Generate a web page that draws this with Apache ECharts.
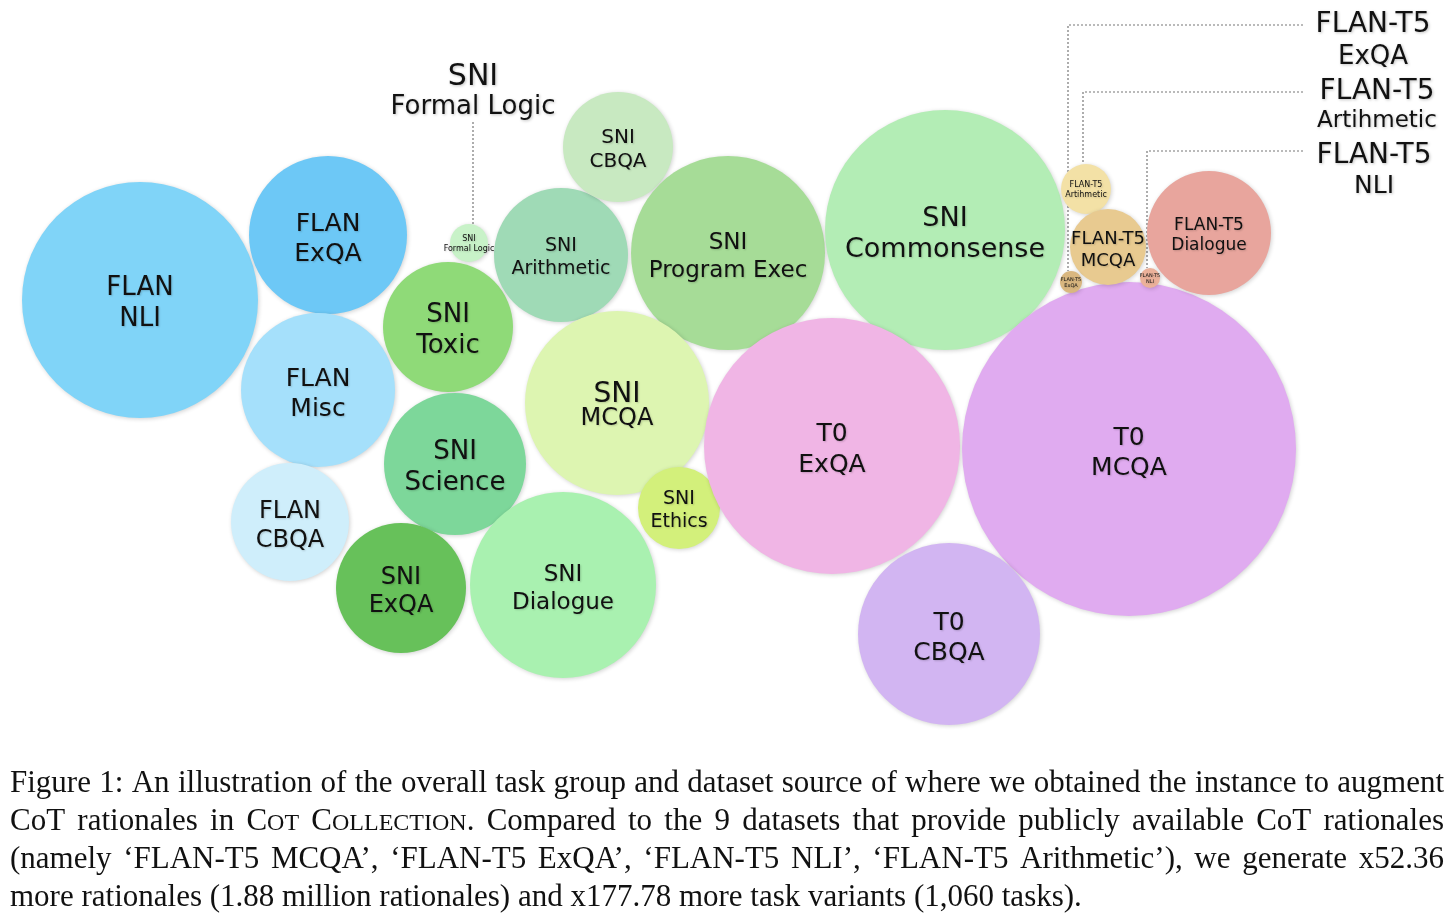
<!DOCTYPE html>
<html>
<head>
<meta charset="utf-8">
<script src="https://cdn.jsdelivr.net/npm/echarts@6/dist/echarts.min.js"></script>
<style>
html,body{margin:0;padding:0;background:#fff;}
#c{width:1456px;height:919px;}
</style>
</head>
<body>
<div id="c"></div>
<script>
// ---- data ----
const topLines    = ['FLAN','FLAN','FLAN','FLAN','SNI','SNI','SNI','SNI','SNI','SNI','SNI','SNI','SNI','SNI','SNI','T0','T0','T0','FLAN-T5','FLAN-T5','FLAN-T5','FLAN-T5','FLAN-T5'];
const bottomLines = ['NLI','ExQA','Misc','CBQA','Formal Logic','Toxic','Science','ExQA','Arithmetic','CBQA','Program Exec','MCQA','Dialogue','Ethics','Commonsense','ExQA','MCQA','CBQA','Artihmetic','MCQA','ExQA','NLI','Dialogue'];
const xValues = [140,328,318,290,469,448,455,401,561,618,728,617,563,679,945,832,1129,949,1086,1108,1071,1150,1209];
const yValues = [300,235,390,522,243,327,464,588,255,147,253,403,585,508,230,446,449,634,189,247,282,278,233];
const radii   = [118,79,77,59,19,65,71,65,67,55,97,92,93,41,120,128,167,91,25,38,11,10,62];

// outer callout labels (index into bubbles)
const calloutIdx = [4,20,18,21];

// ---- styles ----
const colors = ['#80d4f8','#6dc8f6','#a5e0fb','#cfeefb','#c8f2c8','#8fda78','#7dd79a','#67c15a','#9fdab6','#c8e9c1','#a6dc97','#ddf5b1','#a9f1b0','#d3f07b','#b3edb5','#f0b5e5','#e0abf0','#d2b5f2','#f3e1a6','#e8ca90','#d9b780','#ebb19a','#e8a59d'];
const topSize    = [26,25,25,24,8,26,26,24,19,20,23,28,23,19,27,25,25,25,8,18,5,5,17];
const bottomSize = [26,25,25,24,8,26,26,24,19,20,23,24,23,19,27,25,25,25,8,18,5,5,17];
const lineGapK   = [1.18,1.18,1.2,1.2,1.2,1.18,1.18,1.18,1.2,1.2,1.2,0.92,1.2,1.2,1.15,1.22,1.18,1.2,1.2,1.2,1.2,1.2,1.2];
// [x, y top line, size top, y bottom line, size bottom, leader y]
const calloutPos = [[473,77,30,107,26,122],[1373,25,28,57,26,25],[1377,92,28,121,23,92],[1374,156,28,186,25,151]];

const chart = echarts.init(document.getElementById('c'), null, {renderer:'canvas'});

const data = xValues.map((x,i)=>{
  const gap = Math.round(((topSize[i]+bottomSize[i])/2)*lineGapK[i]);
  return {
    value:[x, yValues[i], radii[i]],
    name: topLines[i]+' '+bottomLines[i],
    itemStyle:{color:colors[i]},
    label:{
      offset:[0, Math.round(bottomSize[i]*0.16)],
      formatter:'{a|'+topLines[i]+'}\n{b|'+bottomLines[i]+'}',
      rich:{
        a:{fontSize:topSize[i], lineHeight:gap, fontFamily:'DejaVu Sans', color:'#111'},
        b:{fontSize:bottomSize[i], lineHeight:gap, fontFamily:'DejaVu Sans', color:'#111'}
      }
    }
  };
});

const FONT_SERIF = '"Liberation Serif","DejaVu Serif",serif';
const CAP_SIZE = 31, SC_SIZE = 24;
// caption lines; '|' toggles small-caps segments inside a word
const capLines = [
  'Figure 1: An illustration of the overall task group and dataset source of where we obtained the instance to augment',
  'CoT rationales in C|OT C|OLLECTION|. Compared to the 9 datasets that provide publicly available CoT rationales',
  '(namely \u2018FLAN-T5 MCQA\u2019, \u2018FLAN-T5 ExQA\u2019, \u2018FLAN-T5 NLI\u2019, \u2018FLAN-T5 Arithmetic\u2019), we generate x52.36',
  'more rationales (1.88 million rationales) and x177.78 more task variants (1,060 tasks).'
];
const capJustify = [true,true,true,false];
const capBaseY = [793, 831, 869, 907];

const mctx = document.createElement('canvas').getContext('2d');
function measure(text, size){ mctx.font = size+'px "Liberation Serif"'; return mctx.measureText(text).width; }

function buildGraphics(){
  const g = [];
  // callout dotted leader lines, derived from bubble positions
  calloutIdx.forEach((bi,k)=>{
    const p = chart.convertToPixel({gridIndex:0},[xValues[bi], yValues[bi]]);
    const r = radii[bi];
    const cp = calloutPos[k];
    let pts;
    if (k===0){
      pts = [[p[0]+4, cp[5]],[p[0]+4, p[1]-r]];
    } else {
      pts = [[1303, cp[5]],[p[0]-3, cp[5]],[p[0]-3, p[1]-r]];
    }
    g.push({type:'polyline', z:-1, silent:true, shape:{points:pts},
      style:{stroke:'#777', lineWidth:1.2, lineDash:[2,2], fill:null}});
    const ts = {fontFamily:'DejaVu Sans', fill:'#111', textAlign:'center', textVerticalAlign:'middle',
      textShadowColor:'rgba(0,0,0,0.25)', textShadowBlur:3, textShadowOffsetX:1, textShadowOffsetY:1};
    g.push({type:'text', x:cp[0], y:cp[1], z:5, style:Object.assign({}, ts, {text:topLines[bi], fontSize:cp[2]})});
    g.push({type:'text', x:cp[0], y:cp[3], z:5, style:Object.assign({}, ts, {text:bottomLines[bi], fontSize:cp[4]})});
  });
  // caption, justified lines
  const left = 10, right = 1444;
  capLines.forEach((line,i)=>{
    const words = line.split(' ');
    const wordSegs = words.map(w=>w.split('|').map((t,j)=>{
      const sc = j%2===1;
      return {t:t, sc:sc, w:measure(t, sc?SC_SIZE:CAP_SIZE)};
    }));
    const wordW = wordSegs.map(s=>s.reduce((a,b)=>a+b.w,0));
    const total = wordW.reduce((a,b)=>a+b,0);
    const spaceNat = measure(' ', CAP_SIZE);
    const space = capJustify[i] ? (right-left-total)/(words.length-1) : spaceNat;
    let x = left;
    wordSegs.forEach(segs=>{
      segs.forEach(s=>{
        if (s.t.length){
          const sz = s.sc?SC_SIZE:CAP_SIZE;
          // bottom-aligned; shift so baselines match (descent ~0.216em)
          const y = capBaseY[i] + sz*0.216;
          g.push({type:'text', x:x, y:y, silent:true, style:{text:s.t, fontFamily:FONT_SERIF,
            fontSize:sz, fill:'#111', textVerticalAlign:'bottom'}});
        }
        x += s.w;
      });
      x += space;
    });
  });
  return g;
}

chart.setOption({
  backgroundColor:'#fff',
  animation:false,
  grid:{left:0,right:0,top:0,bottom:0},
  xAxis:{type:'value', min:0, max:1456, show:false},
  yAxis:{type:'value', min:0, max:919, inverse:true, show:false},
  series:[{
    type:'scatter',
    data:data,
    symbolSize:(v)=>v[2]*2,
    itemStyle:{opacity:1, shadowColor:'rgba(0,0,0,0.18)', shadowBlur:4, shadowOffsetX:1, shadowOffsetY:1},
    label:{show:true, position:'inside', align:'center', verticalAlign:'middle',
      textShadowColor:'rgba(0,0,0,0.18)', textShadowBlur:2, textShadowOffsetX:1, textShadowOffsetY:1},
    emphasis:{disabled:true}
  }]
});
chart.setOption({graphic:buildGraphics()});
</script>
</body>
</html>
